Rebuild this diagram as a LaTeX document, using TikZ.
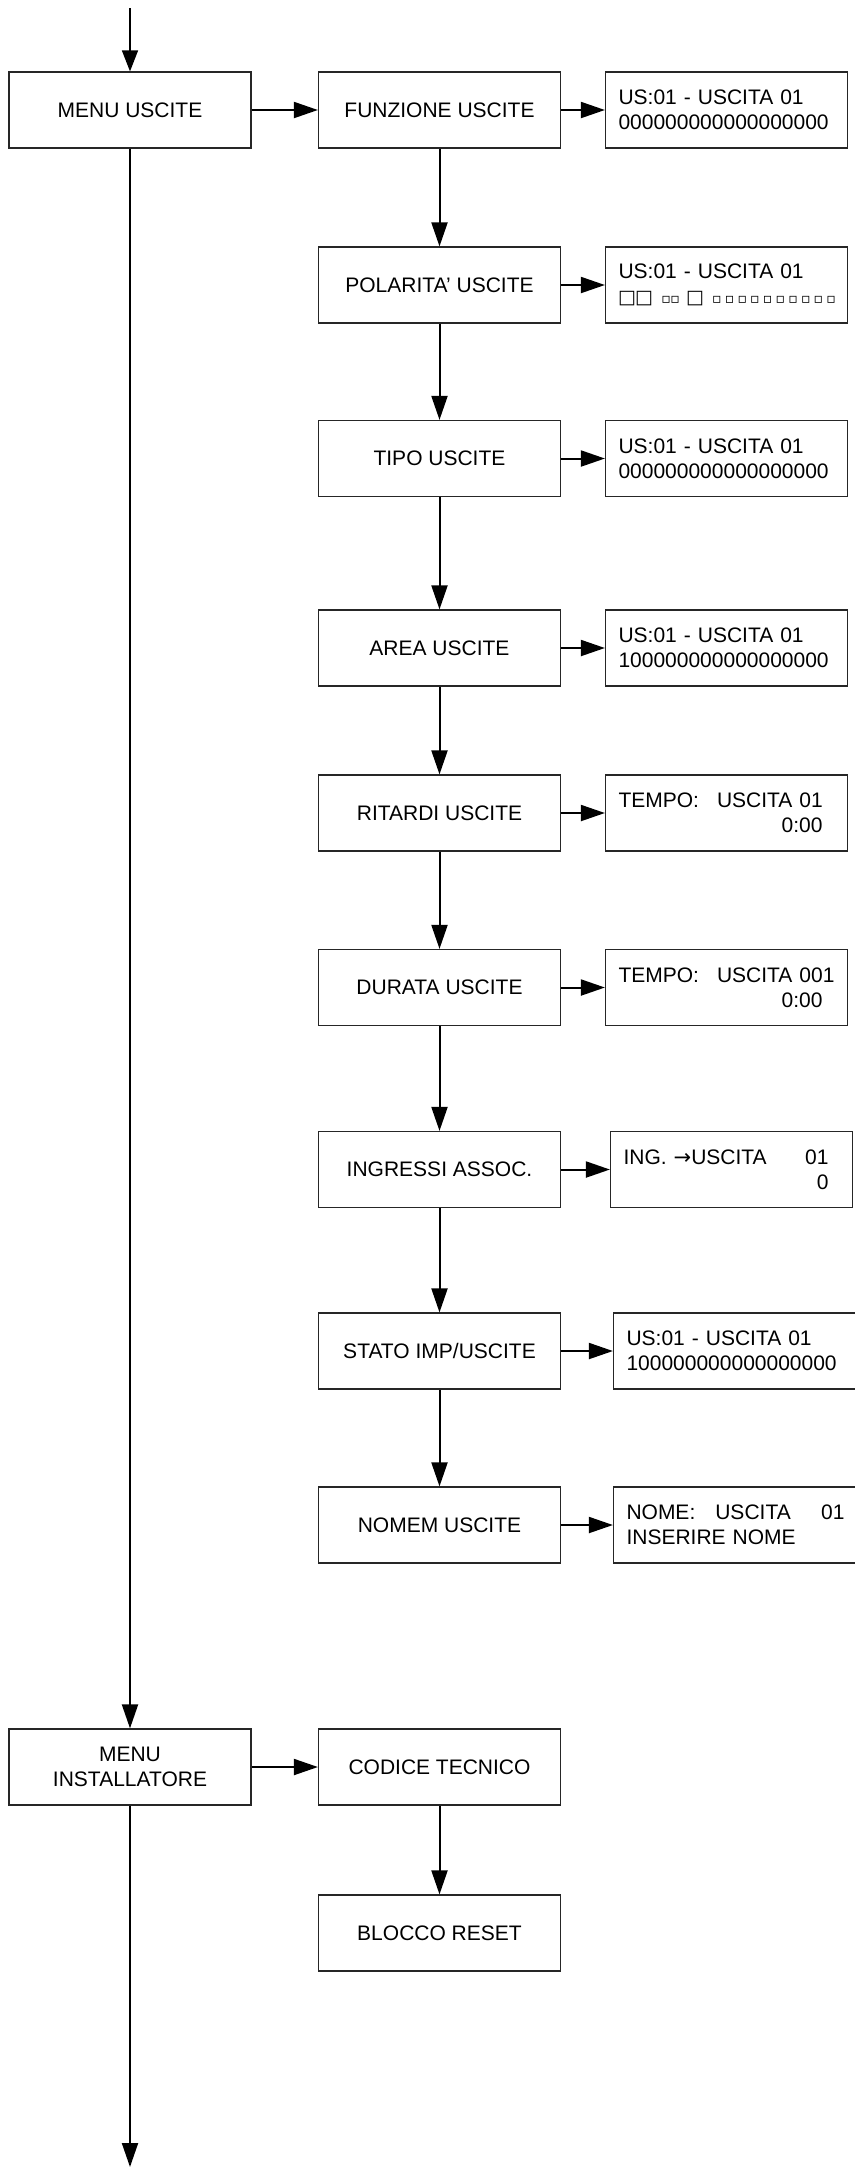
\documentclass[tikz,border=0pt]{standalone}
\usepackage{fontspec}
\setmainfont{Liberation Sans}
\newfontfamily\symbfont{DejaVu Sans}
\usetikzlibrary{arrows.meta,positioning}
\tikzset{
  menu/.style={draw=black!85, line width=0.6pt, minimum width=121pt, minimum height=38pt,
    inner sep=0pt, align=center, font=\fontsize{10.5}{12.8}\selectfont},
  lcd/.style={draw=black!85, line width=0.6pt, minimum height=38pt, text width=108pt,
    inner xsep=6.5pt, inner ysep=0pt, align=left, font=\fontsize{10.5}{12.5}\selectfont},
  flow/.style={-{Triangle[length=12pt, width=8pt]}, line width=1pt},
  entry/.style={-{Triangle[length=10.5pt, width=8pt]}, line width=0.7pt},
}
\newcommand{\bigsq}[1][8.5pt]{\makebox[#1]{\symbfont\fontsize{9.5}{9.5}\selectfont □}}
\newcommand{\dotsq}[1][4.5pt]{\makebox[#1]{\symbfont\fontsize{7}{7}\selectfont ▫}}

\begin{document}
\begin{tikzpicture}[x=0.5pt, y=-0.5pt]
  \useasboundingbox (0,0) rectangle (855,2170);

  % Left column
  \node[menu] (menuusc) at (130,110) {MENU USCITE};
  \node[menu] (menuinst) at (130,1767) {MENU\\INSTALLATORE};
  \coordinate (start) at (130,8);
  \coordinate (stop) at (130,2167);

  % Output menu
  \node[menu] (funz) at (439.5,110) {FUNZIONE USCITE};
  \node[menu] (pol) at (439.5,285) {POLARITA’ USCITE};
  \node[menu] (tipo) at (439.5,458.5) {TIPO USCITE};
  \node[menu] (area) at (439.5,648) {AREA USCITE};
  \node[menu] (rit) at (439.5,813) {RITARDI USCITE};
  \node[menu] (dur) at (439.5,987.5) {DURATA USCITE};
  \node[menu] (ingr) at (439.5,1169.5) {INGRESSI ASSOC.};
  \node[menu] (stato) at (439.5,1351) {STATO IMP/USCITE};
  \node[menu] (nomem) at (439.5,1525) {NOMEM USCITE};

  % Installer menu
  \node[menu] (codice) at (439.5,1767) {CODICE TECNICO};
  \node[menu] (blocco) at (439.5,1933) {BLOCCO RESET};

  % Displays
  \node[lcd] (funz-lcd) at (726.5,110) {US:01 - USCITA 01\\000000000000000000};
  \node[lcd] (pol-lcd) at (726.5,285)
    {US:01 - USCITA 01\\\mbox{\bigsq\bigsq\hspace{4.5pt}\dotsq\dotsq\hspace{3.5pt}\bigsq\hspace{3.5pt}%
      \dotsq[6.35pt]\dotsq[6.35pt]\dotsq[6.35pt]\dotsq[6.35pt]\dotsq[6.35pt]%
      \dotsq[6.35pt]\dotsq[6.35pt]\dotsq[6.35pt]\dotsq[6.35pt]\dotsq[6.35pt]}};
  \node[lcd] (tipo-lcd) at (726.5,458.5) {US:01 - USCITA 01\\000000000000000000};
  \node[lcd] (area-lcd) at (726.5,648) {US:01 - USCITA 01\\100000000000000000};
  \node[lcd] (rit-lcd) at (726.5,813)
    {\makebox[108pt][l]{TEMPO:\hspace*{9pt}USCITA 01}\\\makebox[102pt][r]{0:00}};
  \node[lcd] (dur-lcd) at (726.5,987.5)
    {\makebox[108pt][l]{TEMPO:\hspace*{9pt}USCITA 001}\\\makebox[102pt][r]{0:00}};
  \node[lcd] (ingr-lcd) at (731.5,1169.5)
    {\makebox[102.5pt][s]{ING. {\symbfont →}USCITA\hfill 01}\\\makebox[102.5pt][r]{0}};
  \node[lcd] (stato-lcd) at (734.5,1351) {US:01 - USCITA 01\\100000000000000000};
  \node[lcd] (nomem-lcd) at (734.5,1525)
    {\makebox[109pt][s]{NOME:\hspace*{10pt}USCITA\hfill 01}\\INSERIRE NOME};

  % Connectors
  \draw[entry] (start) -- (menuusc);
  \draw[flow] (menuusc) -- (menuinst);
  \draw[flow] (menuinst) -- (stop);
  \draw[flow] (menuusc) -- (funz);
  \draw[flow] (menuinst) -- (codice);
  \draw[flow] (codice) -- (blocco);
  \foreach \a/\b in {funz/pol, pol/tipo, tipo/area, area/rit, rit/dur, dur/ingr,
                     ingr/stato, stato/nomem}
    \draw[flow] (\a) -- (\b);
  \foreach \a in {funz, pol, tipo, area, rit, dur, ingr, stato, nomem}
    \draw[flow] (\a) -- (\a-lcd);
\end{tikzpicture}
\end{document}
